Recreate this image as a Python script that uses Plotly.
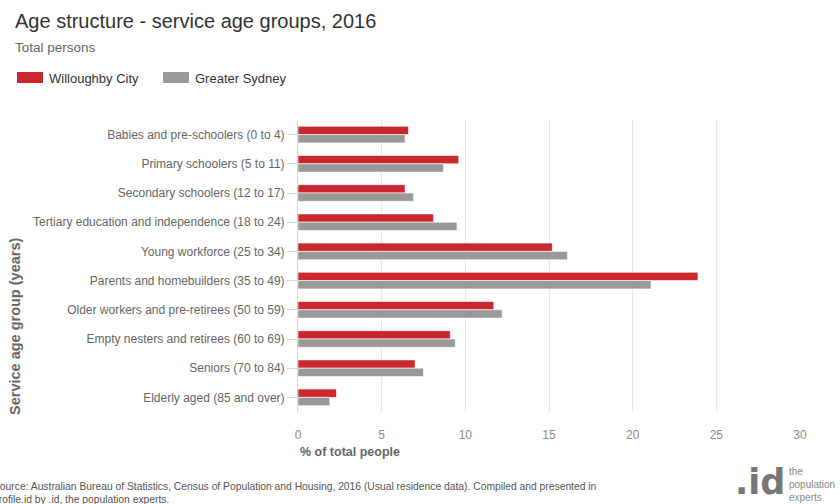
import plotly.graph_objects as go

# Service age groups and share of total persons (%), 2016
categories = [
    "Babies and pre-schoolers (0 to 4)",
    "Primary schoolers (5 to 11)",
    "Secondary schoolers (12 to 17)",
    "Tertiary education and independence (18 to 24)",
    "Young workforce (25 to 34)",
    "Parents and homebuilders (35 to 49)",
    "Older workers and pre-retirees (50 to 59)",
    "Empty nesters and retirees (60 to 69)",
    "Seniors (70 to 84)",
    "Elderly aged (85 and over)",
]
willoughby = [6.6, 9.6, 6.4, 8.1, 15.2, 23.9, 11.7, 9.1, 7.0, 2.3]
greater_sydney = [6.4, 8.7, 6.9, 9.5, 16.1, 21.1, 12.2, 9.4, 7.5, 1.9]
x_ticks = [0, 5, 10, 15, 20, 25, 30]

RED = "#c9282f"
GREY = "#999999"
FONT = "Liberation Sans, Arial, sans-serif"

W, H = 840, 504
L, R, T, B = 298, 40, 120, 92
PW, PH = W - L - R, H - T - B


def px(x, y):
    """Pixel position on the page -> paper coordinates."""
    return (x - L) / PW, (H - B - y) / PH


fig = go.Figure()
fig.add_trace(go.Bar(
    y=categories, x=willoughby, name="Willoughby City", orientation="h",
    marker=dict(color=RED, line=dict(color="white", width=0.6)),
))
fig.add_trace(go.Bar(
    y=categories, x=greater_sydney, name="Greater Sydney", orientation="h",
    marker=dict(color=GREY, line=dict(color="white", width=0.6)),
))

annotations = []
shapes = []


def text(x, y, s, size, color, xanchor="left", yanchor="middle", bold=False,
         family=FONT, **kw):
    ax, ay = px(x, y)
    if bold:
        s = f"<b>{s}</b>"
    annotations.append(dict(
        x=ax, y=ay, xref="paper", yref="paper", text=s, showarrow=False,
        xanchor=xanchor, yanchor=yanchor,
        font=dict(family=family, size=size, color=color), **kw,
    ))


# Title block
text(13, 21, "Age structure - service age groups, 2016", 20, "#333333")
text(13, 47, "Total persons", 13.5, "#666666")

# Legend
for x0, color, label in [(17, RED, "Willoughby City"), (163, GREY, "Greater Sydney")]:
    a0, b0 = px(x0, 83)
    a1, b1 = px(x0 + 26, 72)
    shapes.append(dict(type="rect", xref="paper", yref="paper",
                       x0=a0, y0=b0, x1=a1, y1=b1,
                       fillcolor=color, line=dict(width=0)))
    text(x0 + 30, 78, label, 13, "#333333")

# Axis titles
text(15, 327, "Service age group (years)", 14.5, "#666666", xanchor="center",
     bold=True, textangle=-90)
text(298, 452, "% of total people", 12.5, "#666666", bold=True)

# Footer (the page edge trims its first letters)
text(-9, 486, "Source: Australian Bureau of Statistics, Census of Population and Housing, "
     "2016 (Usual residence data). Compiled and presented in", 10.3, "#555555")
text(-9, 499, "profile.id by .id, the population experts.", 10.3, "#555555")

# Logo
text(733, 504, ".id", 35, "#777777", yanchor="bottom", bold=True,
     family="DejaVu Sans, Liberation Sans")
text(787, 484, "the<br>population<br>experts", 10, "#888888", align="left")

fig.update_layout(
    width=W, height=H,
    margin=dict(l=L, r=R, t=T, b=B, pad=0),
    paper_bgcolor="white", plot_bgcolor="white",
    barmode="group", bargap=0.43, bargroupgap=0,
    showlegend=False,
    font=dict(family=FONT),
    annotations=annotations, shapes=shapes,
    xaxis=dict(
        range=[0, 30], tickvals=x_ticks, showgrid=True, gridcolor="#e6e6e6",
        gridwidth=1, zeroline=False, showline=False,
        ticks="outside", ticklen=12, tickcolor="rgba(0,0,0,0)",
        tickfont=dict(size=12, color="#8a8a8a"),
    ),
    yaxis=dict(
        categoryorder="array", categoryarray=categories, autorange="reversed",
        showline=True, linecolor="#ccd6eb", linewidth=1,
        ticks="outside", ticklen=10, tickcolor="#ccd6eb",
        tickfont=dict(size=12, color="#666666"),
        showgrid=False,
    ),
)

fig.write_html("out.html")
